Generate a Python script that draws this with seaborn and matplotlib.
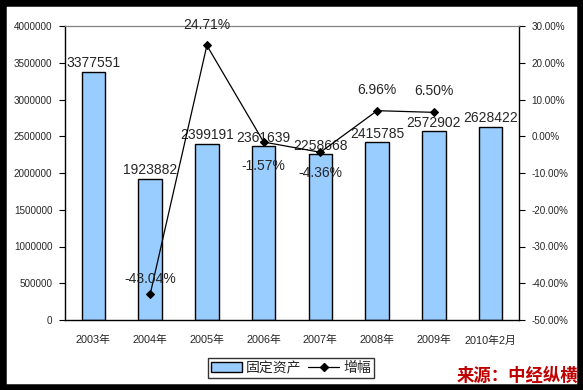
import seaborn as sns
import pandas as pd
import matplotlib
matplotlib.use("Agg")
import matplotlib.pyplot as plt
import matplotlib.lines as mlines
import matplotlib.patches as mpatches
from matplotlib.ticker import FuncFormatter

# data
years = ["2003年", "2004年", "2005年", "2006年", "2007年", "2008年", "2009年", "2010年2月"]
assets = [3377551, 1923882, 2399191, 2361639, 2258668, 2415785, 2572902, 2628422]
growth = [None, -43.04, 24.71, -1.57, -4.36, 6.96, 6.50, None]
growth_offsets = [None, 6, 10, -12, -10, 10, 10, None]  # label offset in points (up/down)

bar_color = "#99CCFF"
fontsize_xtick = 7.8
fontsize_ytick = 7.1
fontsize_label = 10

sns.set_style("white")
plt.rcParams["font.family"] = ["Liberation Sans", "Noto Sans CJK SC", "DejaVu Sans"]

fig = plt.figure(figsize=(5.83, 3.90), dpi=100)
ax = fig.add_axes([65 / 583, 70 / 390, 454 / 583, 294 / 390])

df = pd.DataFrame({"year": years, "assets": assets})
sns.barplot(data=df, x="year", y="assets", color=bar_color, edgecolor="black",
            linewidth=1, width=0.41, saturation=1, ax=ax)

for i, v in enumerate(assets):
	ax.annotate(str(v), (i, v), xytext=(0, 1), textcoords="offset points",
	            ha="center", va="bottom", fontsize=fontsize_label)

ax.set_xlim(-0.5, len(years) - 0.5)
ax.set_ylim(0, 4000000)
ax.set_yticks(range(0, 4000001, 500000))
ax.yaxis.set_major_formatter(FuncFormatter(lambda v, p: "%d" % v))
ax.set_xlabel("")
ax.set_ylabel("")
ax.set_xticks(range(len(years)))
ax.set_xticklabels(years)
ax.set_xticks([i - 0.5 for i in range(len(years) + 1)], minor=True)
ax.tick_params(axis="x", which="major", length=0, pad=11, labelsize=fontsize_xtick)
ax.tick_params(axis="x", which="minor", length=4, direction="out", width=0.8, color="black")
ax.tick_params(axis="y", length=4, direction="out", width=0.8, labelsize=fontsize_ytick,
               left=True, color="black", pad=5)
for s in ["left", "bottom"]:
	ax.spines[s].set_color("black")
	ax.spines[s].set_linewidth(1)
ax.spines["top"].set_color("#808080")
ax.spines["right"].set_visible(False)

ax2 = ax.twinx()
line_df = pd.DataFrame({"pos": range(len(years)), "growth": growth}).dropna()
sns.lineplot(data=line_df, x="pos", y="growth", color="black", linewidth=0.9,
             marker="D", markersize=4.5, markeredgecolor="black", ax=ax2)
for i, g in enumerate(growth):
	if g is None:
		continue
	off = growth_offsets[i]
	ax2.annotate("%.2f%%" % g, (i, g), xytext=(0, off), textcoords="offset points",
	             ha="center", va="bottom" if off > 0 else "top", fontsize=fontsize_label)
ax2.set_ylim(-50, 30)
ax2.set_yticks(range(-50, 31, 10))
ax2.yaxis.set_major_formatter(FuncFormatter(lambda v, p: "%.2f%%" % v))
ax2.set_ylabel("")
ax2.set_xlabel("")
ax2.tick_params(axis="y", length=4, direction="out", width=0.8, labelsize=fontsize_ytick,
                right=True, color="black", pad=5)
ax2.spines["right"].set_color("black")
ax2.spines["right"].set_linewidth(1)
ax2.spines["left"].set_visible(False)
ax2.spines["bottom"].set_visible(False)
ax2.spines["top"].set_color("#808080")
ax2.set_xlim(-0.5, len(years) - 0.5)

handles = [
	mpatches.Patch(facecolor=bar_color, edgecolor="black", linewidth=1),
	mlines.Line2D([], [], color="black", linewidth=0.9, marker="D", markersize=4.5),
]
leg = fig.legend(handles=handles, labels=["固定资产", "增幅"], ncol=2,
                 loc="center", bbox_to_anchor=(291 / 583, 1 - 368 / 390),
                 fontsize=10, frameon=True, fancybox=False, handlelength=2.2,
                 borderpad=0.25, columnspacing=0.5, handletextpad=0.3)
leg.get_frame().set_edgecolor("black")
leg.get_frame().set_linewidth(1)

fig.text(517 / 583, 1 - 376 / 390, "来源：中经纵横", color="#C00000", fontsize=12.5,
         fontweight="bold", style="italic", ha="center", va="center",
         family=["Noto Sans CJK SC", "DejaVu Sans"])

fig.patches.append(mpatches.Rectangle((0, 0), 1, 1, transform=fig.transFigure,
                                      fill=False, edgecolor="black", linewidth=9))

fig.savefig("out.png", dpi=100)
